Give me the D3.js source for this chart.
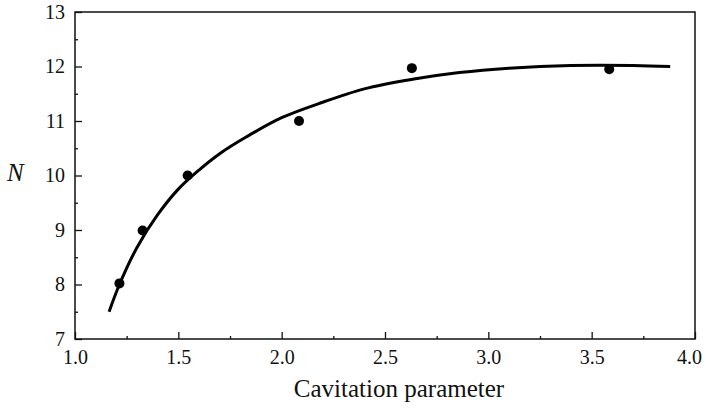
<!DOCTYPE html>
<html>
<head>
<meta charset="utf-8">
<script src="https://cdn.jsdelivr.net/npm/d3@7/dist/d3.min.js"></script>
<style>
  html, body { margin: 0; padding: 0; background: #fff; }
  svg { display: block; }
</style>
</head>
<body>
<svg id="chart" width="706" height="408"></svg>
<script>
// Measured points: number of cells N against cavitation parameter
const sigma = [1.215, 1.327, 1.545, 2.084, 2.63, 3.585];
const cellCount = [8.02, 8.99, 10, 11, 11.97, 11.95];

// Fitted trend line, sampled along its length
const fitSigma = [1.165, 1.215, 1.30, 1.40, 1.50, 1.60, 1.70, 1.83, 2.00, 2.18, 2.40, 2.64, 2.86, 3.10, 3.40, 3.70, 3.88];
const fitN     = [7.50, 8.00, 8.68, 9.28, 9.75, 10.10, 10.40, 10.71, 11.06, 11.32, 11.59, 11.77, 11.89, 11.97, 12.02, 12.02, 12.00];

const xMajor = [1.0, 1.5, 2.0, 2.5, 3.0, 3.5, 4.0];
const xMinor = [1.25, 1.75, 2.25, 2.75, 3.25, 3.75];
const yMajor = [7, 8, 9, 10, 11, 12, 13];
const yMinor = [7.5, 8.5, 9.5, 10.5, 11.5, 12.5];

const serif = "'Liberation Serif', Tinos, 'Nimbus Roman', 'DejaVu Serif', serif";
const ink = "#111";

const svg = d3.select("#chart").attr("font-family", serif);
const plotL = 75, plotR = 695, plotT = 12, plotB = 339;

const x = d3.scaleLinear().domain([1, 4]).range([plotL, plotR]);
const y = d3.scaleLinear().domain([7, 13]).range([plotB, plotT]);

// Frame
svg.append("rect")
  .attr("x", plotL).attr("y", plotT)
  .attr("width", plotR - plotL).attr("height", plotB - plotT)
  .attr("fill", "none").attr("stroke", ink).attr("stroke-width", 1.5);

function styleAxis(g) {
  g.attr("font-family", serif);
  g.select(".domain").remove();
  g.selectAll(".tick line").attr("stroke", ink).attr("stroke-width", 1.3);
  g.selectAll(".tick text").attr("fill", ink).attr("font-family", serif).attr("font-size", 20);
}

// Bottom axis: inward ticks, labels below
const xAxis = svg.append("g").attr("transform", `translate(0,${plotB})`)
  .call(d3.axisBottom(x).tickValues(xMajor).tickSize(-7).tickFormat(d3.format(".1f")))
  .call(styleAxis);
xAxis.selectAll(".tick text").attr("dy", "0.71em").attr("y", 11);
// keep the last label inside the page edge
xAxis.selectAll(".tick text").filter(d => d === 4).attr("x", -6);
svg.append("g").attr("transform", `translate(0,${plotB})`)
  .call(d3.axisBottom(x).tickValues(xMinor).tickSize(-3).tickFormat(""))
  .call(styleAxis);

// Left axis: inward ticks, labels to the left
const yAxis = svg.append("g").attr("transform", `translate(${plotL},0)`)
  .call(d3.axisLeft(y).tickValues(yMajor).tickSize(-7).tickFormat(d3.format("d")))
  .call(styleAxis);
yAxis.selectAll(".tick text").attr("x", -10);
svg.append("g").attr("transform", `translate(${plotL},0)`)
  .call(d3.axisLeft(y).tickValues(yMinor).tickSize(-3).tickFormat(""))
  .call(styleAxis);

// Axis titles
svg.append("text")
  .attr("x", 399).attr("y", 397)
  .attr("text-anchor", "middle")
  .attr("font-family", serif)
  .attr("font-size", 25)
  .attr("fill", ink)
  .text("Cavitation parameter");

svg.append("text")
  .attr("x", 7).attr("y", 181)
  .attr("font-family", serif)
  .attr("font-size", 25)
  .attr("font-style", "italic")
  .attr("fill", ink)
  .text("N");

// Trend line
const line = d3.line()
  .x((d, i) => x(fitSigma[i]))
  .y((d, i) => y(fitN[i]))
  .curve(d3.curveCatmullRom.alpha(0.5));
svg.append("path")
  .datum(fitSigma)
  .attr("d", line)
  .attr("fill", "none")
  .attr("stroke", "#000")
  .attr("stroke-width", 3);

// Data points
svg.selectAll("circle.pt")
  .data(sigma)
  .join("circle")
  .attr("class", "pt")
  .attr("cx", d => x(d))
  .attr("cy", (d, i) => y(cellCount[i]))
  .attr("r", 5)
  .attr("fill", "#000");
</script>
</body>
</html>
